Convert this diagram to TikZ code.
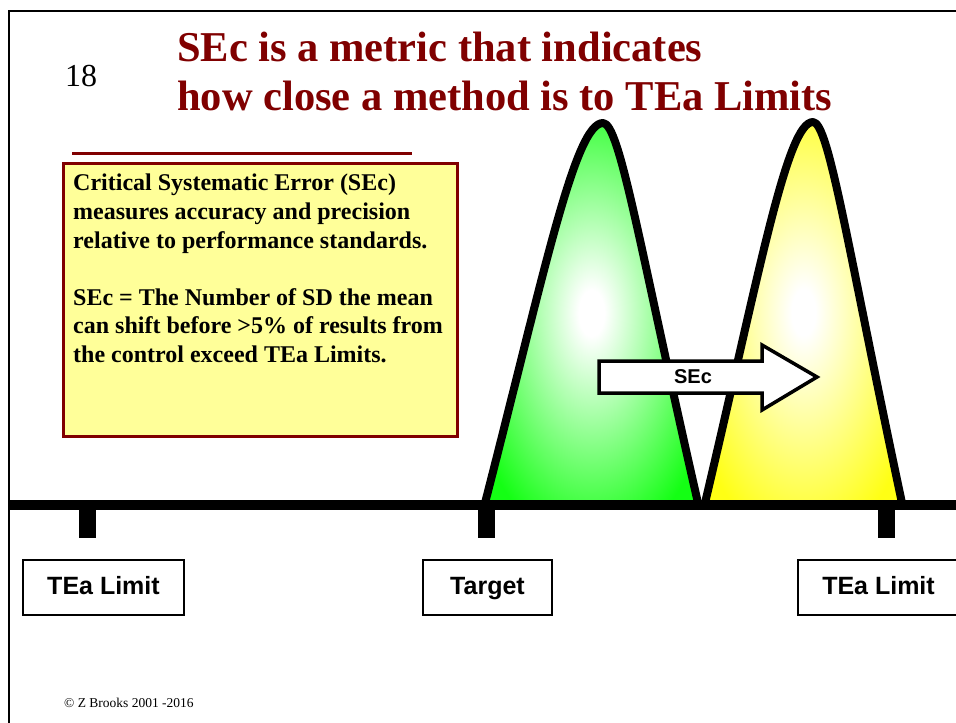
\documentclass[tikz,border=0pt]{standalone}
\usepackage{fontspec}
\setmainfont{Liberation Serif}
\setsansfont{Liberation Sans}
\usetikzlibrary{positioning}
\definecolor{slidered}{RGB}{128,0,0}
\definecolor{notefill}{RGB}{255,255,153}
\definecolor{peakgreen}{RGB}{20,255,20}
\definecolor{peakyellow}{RGB}{255,255,20}
\colorlet{peakcolor}{peakgreen}
\pgfdeclareradialshading[peakcolor]{peakglow}{\pgfpoint{0bp}{0bp}}
  {color(0bp)=(white); color(3bp)=(white); color(31bp)=(peakcolor); color(50bp)=(peakcolor)}
\begin{document}
\begin{tikzpicture}[x=1pt,y=-1pt,
    limitbox/.style={draw,line width=2pt,fill=white,minimum height=55pt,inner xsep=24.5pt,text height=18pt,text depth=5pt,font=\sffamily\bfseries\fontsize{25}{30}\selectfont},
    titletext/.style={anchor=base west,inner sep=0pt,text=slidered,font=\bfseries\fontsize{42.5}{49}\selectfont},
    curve/.style={line width=8pt,line join=round,shading=peakglow}]
  \useasboundingbox (0,0) rectangle (956,723);
  \draw[line width=2.5pt] (956,11) -- (9,11) -- (9,723);

  \node[anchor=base,font=\fontsize{32}{32}\selectfont] (slide) at (81,86) {18};
  \node[titletext] (titleA) at (177,61) {SEc is a metric that indicates};
  \node[titletext] (titleB) at (177,110) {how close a method is to TEa Limits};

  % note box
  \draw[slidered,line width=3pt] (72,153.5) -- (412,153.5);
  \node[draw=slidered,line width=2.7pt,fill=notefill,anchor=north west,minimum width=394pt,minimum height=273pt] (note) at (62,162) {};
  \node[anchor=north west,align=left,inner sep=0pt,font=\bfseries\fontsize{24}{28.6}\selectfont] (notetext) at (73,174)
    {Critical Systematic Error (SEc)\\measures accuracy and precision\\relative to performance standards.\\[28.6pt]SEc = The Number of SD the mean\\can shift before >5\% of results from\\the control exceed TEa Limits.};

  % the two distributions
  \colorlet{peakcolor}{peakgreen}
  \shadedraw[curve] (485,503) .. controls (545,270) and (575,123) .. (603,123)
    .. controls (620,123) and (640,250) .. (698,503);
  \colorlet{peakcolor}{peakyellow}
  \shadedraw[curve] (705,503) .. controls (760,270) and (787,122) .. (813,122)
    .. controls (829,122) and (848,250) .. (902,503);

  % axis and ticks
  \coordinate (axisL) at (9,505);
  \coordinate (axisR) at (956,505);
  \draw[line width=10.5pt] (axisL) -- (axisR);
  \foreach \name/\x in {tickL/87,tickT/486,tickR/886}
    \draw[line width=17pt] (\x,505) coordinate (\name) -- ++(0,32.5);

  \node[limitbox] (limitL) at (103.5,587.5) {TEa Limit};
  \node[limitbox,minimum width=129pt] (target) at (487.5,587.5) {Target};
  \node[limitbox] (limitR) at (878.5,587.5) {TEa Limit};

  % shift arrow
  \draw[line width=3.5pt,fill=white] (599,361) -- (762,361) -- (762,345) -- (817,377)
    -- (762,410) -- (762,393) -- (599,393) -- cycle;
  \node[font=\sffamily\bfseries\fontsize{20}{20}\selectfont] (shift) at (693,377) {SEc};

  \node[anchor=base west,inner sep=0pt,font=\fontsize{13.5}{13.5}\selectfont] (copy) at (64,707) {© Z Brooks 2001 -2016};
\end{tikzpicture}
\end{document}
